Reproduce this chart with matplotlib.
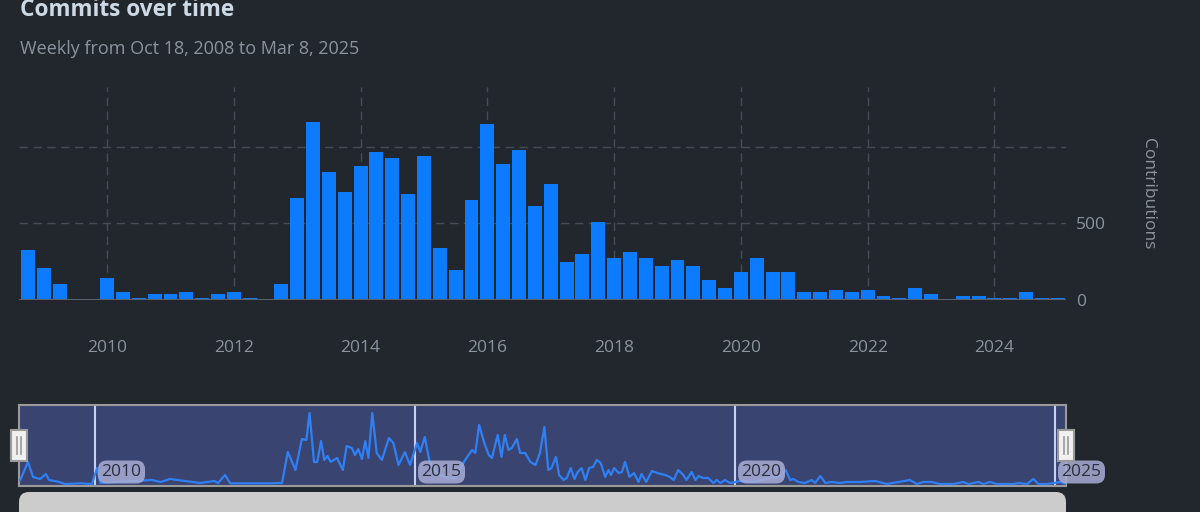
import matplotlib.pyplot as plt
from matplotlib.patches import FancyBboxPatch, Rectangle

# quarterly commit totals, first quarter starts Oct 2008
quarter_start = 2008.75
commits = [327, 207, 103, 0, 0, 142, 50, 11, 37, 37, 50, 11, 37, 50, 11, 0,
           103, 665, 1161, 835, 704, 874, 965, 926, 691, 939, 338, 194, 651, 1148,
           887, 978, 612, 756, 246, 298, 508, 272, 312, 272, 220, 259, 220, 129,
           76, 181, 272, 181, 181, 50, 50, 63, 50, 63, 24, 11, 76, 37, 0, 24,
           24, 11, 11, 50, 11, 11]
year_ticks = [2010, 2012, 2014, 2016, 2018, 2020, 2022, 2024]

# weekly series shown in the zoom slider
week_year = [2008.80, 2008.83, 2008.95, 2009.03, 2009.14, 2009.23, 2009.28, 2009.42, 2009.53, 2009.77,
             2009.95, 2010.03, 2010.08, 2010.31, 2010.63, 2010.89, 2011.02, 2011.17, 2011.41, 2011.64,
             2011.86, 2011.92, 2012.03, 2012.11, 2012.42, 2012.73, 2012.92, 2013.01, 2013.13, 2013.23,
             2013.30, 2013.35, 2013.42, 2013.47, 2013.53, 2013.58, 2013.63, 2013.68, 2013.78, 2013.87,
             2013.93, 2014.01, 2014.06, 2014.11, 2014.17, 2014.22, 2014.27, 2014.33, 2014.40, 2014.48,
             2014.59, 2014.66, 2014.74, 2014.84, 2014.92, 2015.03, 2015.08, 2015.15, 2015.23, 2015.34,
             2015.50, 2015.63, 2015.78, 2015.89, 2015.94, 2016.00, 2016.08, 2016.15, 2016.20, 2016.29,
             2016.35, 2016.40, 2016.46, 2016.51, 2016.59, 2016.64, 2016.72, 2016.80, 2016.88, 2016.95,
             2017.02, 2017.08, 2017.13, 2017.20, 2017.25, 2017.32, 2017.37, 2017.43, 2017.49, 2017.54,
             2017.60, 2017.66, 2017.72, 2017.78, 2017.84, 2017.90, 2017.97, 2018.02, 2018.06, 2018.11,
             2018.18, 2018.23, 2018.28, 2018.35, 2018.42, 2018.49, 2018.54, 2018.61, 2018.70, 2018.78,
             2018.91, 2018.98, 2019.04, 2019.11, 2019.19, 2019.24, 2019.32, 2019.38, 2019.43, 2019.50,
             2019.58, 2019.66, 2019.71, 2019.77, 2019.84, 2019.92, 2020.08, 2020.31, 2020.60, 2020.67,
             2020.73, 2020.79, 2020.86, 2020.91, 2020.99, 2021.09, 2021.20, 2021.25, 2021.33, 2021.41,
             2021.51, 2021.64, 2021.74, 2021.95, 2022.19, 2022.37, 2022.73, 2022.84, 2022.94, 2023.07,
             2023.20, 2023.41, 2023.56, 2023.65, 2023.80, 2023.88, 2023.98, 2024.09, 2024.35, 2024.43,
             2024.56, 2024.66, 2024.74, 2024.87, 2025.08, 2025.17]
week_commits = [12, 12, 66, 21, 15, 30, 12, 7, 0, 2,
                0, 48, 3, 6, 9, 12, 6, 15, 9, 3,
                9, 3, 27, 2, 2, 2, 3, 96, 42, 135,
                132, 213, 66, 66, 129, 72, 84, 66, 78, 42,
                114, 108, 87, 105, 75, 129, 78, 213, 93, 72,
                138, 123, 57, 96, 57, 123, 96, 141, 63, 33,
                18, 18, 72, 102, 93, 177, 123, 87, 78, 147,
                81, 147, 102, 108, 135, 93, 93, 66, 57, 93,
                171, 42, 48, 81, 27, 12, 18, 48, 15, 36,
                48, 12, 48, 51, 72, 63, 21, 42, 27, 48,
                33, 36, 66, 21, 33, 6, 30, 6, 39, 33,
                27, 21, 12, 42, 27, 12, 36, 12, 24, 18,
                18, 3, 12, 3, 12, 3, 9, 6, 21, 21,
                27, 42, 12, 15, 6, 3, 12, 3, 24, 3,
                6, 3, 6, 6, 9, 0, 12, 0, 6, 6,
                0, 0, 6, 0, 6, 0, 6, 0, 0, 3,
                0, 15, 0, 0, 6, 0]

bg = "#22272e"
muted = "#8b949e"
blue = "#0c7bff"

plt.rcParams['font.family'] = ['Open Sans', 'DejaVu Sans']

fig = plt.figure(figsize=(12, 5.12), dpi=100, facecolor=bg)

ax = fig.add_axes([19 / 1200, 212 / 512, 1047 / 1200, 213 / 512], facecolor=bg)
xs = [quarter_start + 0.25 * i for i in range(len(commits))]
ax.bar(xs, commits, width=0.22, color=blue, zorder=3)
ax.set_xlim(2008.61, 2025.13)
ax.set_ylim(0, 1392)
for s in ax.spines.values():
    s.set_visible(False)
ax.axhline(0, color="#5a626c", lw=1.5, zorder=4)
ax.set_xticks(year_ticks)
ax.set_xticklabels([str(y) for y in year_ticks])
ax.set_yticks([0, 500, 1000])
ax.set_yticklabels(["0", "500", ""])
ax.yaxis.tick_right()
ax.tick_params(axis="x", length=0, pad=29, labelsize=12.5, labelcolor=muted)
ax.tick_params(axis="y", length=0, pad=7, labelsize=12.5, labelcolor=muted)
ax.grid(True, color="#454c55", ls=(0, (6, 4)), lw=1, zorder=0)
ax.yaxis.set_label_position("right")
ax.set_ylabel("Contributions", rotation=270, color=muted, fontsize=12.5, labelpad=36)

fig.text(20 / 1200, 1 - 10 / 512, "Commits over time", fontsize=16.3, fontweight="bold",
         color="#cdd9e5", va="center", ha="left")
fig.text(20 / 1200, 1 - 49 / 512, "Weekly from Oct 18, 2008 to Mar 8, 2025", fontsize=13,
         color=muted, va="center", ha="left")

# zoom slider overview
axs = fig.add_axes([19 / 1200, 26 / 512, 1047 / 1200, 81 / 512], facecolor="#3a4470")
axs.plot(week_year, week_commits, color="#2f80f5", lw=1.6, zorder=3)
axs.set_xlim(2008.81, 2025.17)
axs.set_ylim(-6, 237)
axs.set_xticks([])
axs.set_yticks([])
for s in axs.spines.values():
    s.set_color("#9a9a9a")
    s.set_linewidth(1.5)
for yr in [2010, 2015, 2020, 2025]:
    axs.axvline(yr, color="#c9d0f5", lw=1.5, zorder=2)
    axs.text(yr + 0.1, 36, str(yr), fontsize=12.5, color="#2b2f3d", va="center", ha="left",
             zorder=5, bbox=dict(boxstyle="round,pad=0.2,rounding_size=0.5", fc="#a9aed6",
                                 ec="none", alpha=0.85))

# slider handles and scrollbar
ui = fig.add_axes([0, 0, 1, 1], facecolor="none")
ui.set_xlim(0, 1200)
ui.set_ylim(512, 0)
ui.axis("off")
for hx in [19, 1066]:
    ui.add_patch(Rectangle((hx - 8, 430), 16, 31, fc="#f0f0f0", ec="#9a9a9a", lw=1.5))
    ui.plot([hx - 2, hx - 2], [437, 454], color="#999999", lw=1.2)
    ui.plot([hx + 2, hx + 2], [437, 454], color="#999999", lw=1.2)
ui.add_patch(FancyBboxPatch((19, 492), 1047, 30, boxstyle="round,pad=0,rounding_size=10",
                            fc="#cccccc", ec="none"))

fig.savefig("out.png", dpi=100, facecolor=bg)
